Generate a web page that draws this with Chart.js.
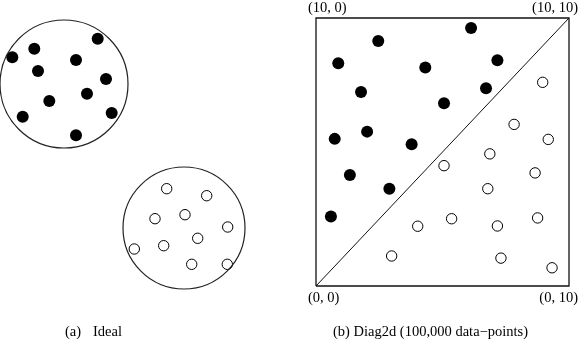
<!DOCTYPE html>
<html>
<head>
<meta charset="utf-8">
<script src="https://cdn.jsdelivr.net/npm/chart.js@4/dist/chart.umd.min.js"></script>
<style>
body { margin: 0; background: #fff; }
#wrap { position: relative; width: 588px; height: 348px; overflow: hidden;
  font-family: "Liberation Serif", "Times New Roman", serif; font-size: 14.5px; color: #000; }
#left { position: absolute; left: 0; top: 0; }
#right { position: absolute; left: 300px; top: 0; }
.cap { position: absolute; white-space: pre; line-height: 1; }
</style>
</head>
<body>
<div id="wrap">
  <canvas id="left" width="300" height="348"></canvas>
  <canvas id="right" width="288" height="348"></canvas>
  <div class="cap" id="capA1" style="left:65px; top:324px"></div>
  <div class="cap" id="capA2" style="left:93px; top:324px"></div>
  <div class="cap" id="capB" style="left:333px; top:324px"></div>
</div>
<script>
// (a) Ideal: two clusters, each inside its own circle
var clusterCentres = [[6.4, 26.4], [18.4, 12.0]];
var idealBlack = [[1.23, 29.07], [3.43, 29.93], [9.77, 30.93], [7.6, 28.8], [3.8, 27.7],
  [10.6, 26.9], [8.7, 25.43], [4.93, 24.7], [2.27, 23.13], [11.17, 23.5], [7.6, 21.27]];
var idealWhite = [[16.67, 15.93], [20.67, 15.23], [15.5, 12.93], [18.5, 13.33], [22.77, 12.1],
  [19.77, 10.97], [16.37, 10.23], [13.43, 9.9], [19.17, 8.37], [22.73, 8.37]];

// (b) Diag2d: points above / below the diagonal
var diagBlack = [[6.13, 9.63], [2.46, 9.14], [0.88, 8.31], [4.32, 8.15], [7.17, 8.42],
  [1.78, 7.24], [6.72, 7.38], [5.06, 6.82], [0.74, 5.49], [2.02, 5.76], [3.78, 5.29],
  [1.34, 4.14], [2.90, 3.63], [0.59, 2.59]];
var diagWhite = [[8.96, 7.60], [7.83, 6.03], [9.18, 5.47], [6.87, 4.93], [5.06, 4.49],
  [8.66, 4.22], [6.79, 3.63], [5.36, 2.51], [4.02, 2.23], [7.17, 2.24], [8.76, 2.54],
  [2.99, 1.12], [7.31, 1.04], [9.33, 0.68]];
var diagFrame = [[0, 0], [10, 0], [10, 10], [0, 10], [0, 0]];
var diagLine = [[0, 0], [10, 10]];
var cornerLabels = { bl: '(0, 0)', br: '(0, 10)', tl: '(10, 0)', tr: '(10, 10)' };
var captions = ['(a)', 'Ideal', '(b) Diag2d (100,000 data\u2212points)'];

function pts(arr) {
  return arr.map(function (p) { return { x: p[0], y: p[1] }; });
}

document.getElementById('capA1').textContent = captions[0];
document.getElementById('capA2').textContent = captions[1];
document.getElementById('capB').textContent = captions[2];

var common = {
  responsive: false,
  animation: false,
  events: [],
  plugins: { legend: { display: false }, tooltip: { enabled: false } }
};

new Chart(document.getElementById('left'), {
  type: 'scatter',
  data: {
    datasets: [
      { data: pts(clusterCentres), pointRadius: [64, 61], pointBackgroundColor: 'rgba(0,0,0,0)',
        pointBorderColor: '#222', pointBorderWidth: 1.2, clip: false },
      { data: pts(idealBlack), pointRadius: 6, pointBackgroundColor: '#000', pointBorderWidth: 0, clip: false },
      { data: pts(idealWhite), pointRadius: 5.2, pointBackgroundColor: '#fff', pointBorderColor: '#000',
        pointBorderWidth: 1, clip: false }
    ]
  },
  options: Object.assign({}, common, {
    layout: { padding: 0, autoPadding: false },
    scales: {
      x: { display: false, min: 0, max: 30 },
      y: { display: false, min: 0, max: 34.8 }
    }
  })
});

var cornerPlugin = {
  id: 'corners',
  afterDraw: function (chart) {
    var ctx = chart.ctx, a = chart.chartArea;
    ctx.save();
    ctx.font = '14.5px "Liberation Serif", serif';
    ctx.fillStyle = '#000';
    ctx.textBaseline = 'middle';
    ctx.textAlign = 'left';
    ctx.fillText(cornerLabels.tl, a.left - 8, a.top - 10);
    ctx.fillText(cornerLabels.bl, a.left - 8, a.bottom + 12);
    ctx.textAlign = 'right';
    ctx.fillText(cornerLabels.tr, a.right + 9, a.top - 10);
    ctx.fillText(cornerLabels.br, a.right + 9, a.bottom + 12);
    ctx.restore();
  }
};

new Chart(document.getElementById('right'), {
  type: 'scatter',
  data: {
    datasets: [
      { data: pts(diagBlack), pointRadius: 6, pointBackgroundColor: '#000', pointBorderWidth: 0, clip: false },
      { data: pts(diagWhite), pointRadius: 5.2, pointBackgroundColor: '#fff', pointBorderColor: '#000',
        pointBorderWidth: 1, clip: false },
      { data: pts(diagFrame), showLine: true, pointRadius: 0, borderColor: '#111', borderWidth: 1.3, clip: false },
      { data: pts(diagLine), showLine: true, pointRadius: 0, borderColor: '#111', borderWidth: 1, clip: false }
    ]
  },
  options: Object.assign({}, common, {
    layout: { padding: { left: 16, right: 19, top: 18, bottom: 62 }, autoPadding: false },
    scales: {
      x: { display: false, min: 0, max: 10 },
      y: { display: false, min: 0, max: 10 }
    }
  }),
  plugins: [cornerPlugin]
});
</script>
</body>
</html>
